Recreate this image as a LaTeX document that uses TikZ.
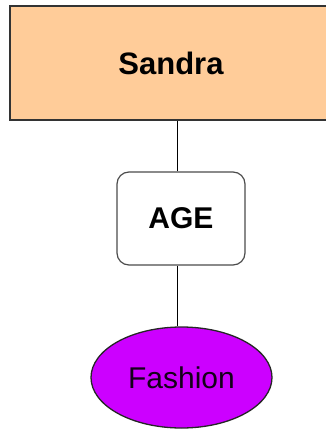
\documentclass[tikz,border=0pt]{standalone}
\usepackage{fontspec}
\setmainfont{Liberation Sans}
\usetikzlibrary{shapes.geometric}
\definecolor{pesca}{RGB}{255,204,153}
\definecolor{viola}{RGB}{204,0,255}
\tikzset{
  testo/.style={font=\fontsize{30}{32}\selectfont},
  radice/.style={testo,font=\fontsize{31}{33}\selectfont\bfseries,draw=black!80,line width=1.6pt,fill=pesca,minimum width=322,minimum height=114,inner sep=0},
  attributo/.style={testo,font=\fontsize{30}{32}\selectfont\bfseries,draw=black!70,line width=1.2pt,fill=white,rounded corners=12,minimum width=128,minimum height=93,inner sep=0},
  valore/.style={testo,ellipse,draw=black!85,line width=1.3pt,fill=viola,text=black!90!viola,minimum width=181,minimum height=101,inner sep=0},
}
\begin{document}
\begin{tikzpicture}[x=1pt,y=-1pt]
        \useasboundingbox (0,0) rectangle (326,434);
        % nodi
        \node[radice] (sandra) at (171,63) {Sandra};
        \node[attributo] (age) at (181,218.5) {AGE};
        \node[valore] (fashion) at (181.5,377.5) {Fashion};

        % collegamenti
        \draw[line width=1pt] ([xshift=-4]age.north) -- ([xshift=-4]age.north |- sandra.south);
        \draw[line width=1pt] ([xshift=-4]age.south) -- ([xshift=-4]age.south |- fashion.north);
\end{tikzpicture}
\end{document}
